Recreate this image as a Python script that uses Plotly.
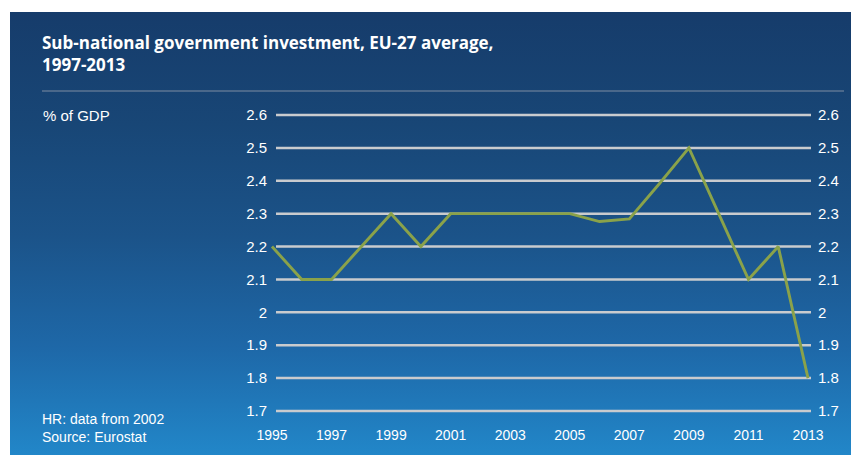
import base64
import plotly.graph_objects as go

# ---- data ----
years = list(range(1995, 2014))
values = [2.2, 2.1, 2.1, 2.2, 2.3, 2.2, 2.3, 2.3, 2.3, 2.3, 2.3, 2.276, 2.284,
          2.39, 2.5, 2.3, 2.1, 2.2, 1.8]
y_ticks = [1.7, 1.8, 1.9, 2.0, 2.1, 2.2, 2.3, 2.4, 2.5, 2.6]
y_tick_labels = ["1.7", "1.8", "1.9", "2", "2.1", "2.2", "2.3", "2.4", "2.5", "2.6"]
x_ticks = list(range(1995, 2014, 2))
x_tick_labels = [str(y) for y in x_ticks]

title_text = "Sub-national government investment, EU-27 average,<br>1997-2013"
unit_text = "% of GDP"
note_text = "HR: data from 2002"
source_text = "Source: Eurostat"

W, H = 851, 455


def px(x):
    return x / W


def py(y):
    return 1 - y / H


# gradient background as SVG data-uri
svg = (
    '<svg xmlns="http://www.w3.org/2000/svg" width="100" height="100" preserveAspectRatio="none">'
    '<defs><linearGradient id="g" x1="0" y1="0" x2="0" y2="1">'
    '<stop offset="0" stop-color="#163c6b"/>'
    '<stop offset="0.25" stop-color="#184676"/>'
    '<stop offset="0.5" stop-color="#1b5389"/>'
    '<stop offset="0.75" stop-color="#1e68a8"/>'
    '<stop offset="1" stop-color="#2288ca"/>'
    '</linearGradient></defs>'
    '<rect x="0" y="0" width="100" height="100" fill="url(#g)"/></svg>'
)
bg_uri = "data:image/svg+xml;base64," + base64.b64encode(svg.encode()).decode()

fig = go.Figure()
fig.add_trace(go.Scatter(
    x=years, y=values, mode="lines",
    line=dict(color="#8aa24a", width=2.9),
    hoverinfo="x+y", showlegend=False,
))
# invisible trace to anchor the right axis
fig.add_trace(go.Scatter(
    x=[years[0]], y=[values[0]], yaxis="y2", mode="markers",
    marker=dict(opacity=0), hoverinfo="skip", showlegend=False,
))

tick_font = dict(family="Liberation Sans, Arial, sans-serif", size=15, color="white")

shapes = []
for t in y_ticks:
    shapes.append(dict(type="line", xref="paper", yref="y",
                       x0=px(276), x1=px(811), y0=t, y1=t,
                       line=dict(color="#c9cbce", width=2.5), layer="below"))
shapes.append(dict(type="line", xref="paper", yref="paper",
                   x0=px(42), x1=px(844), y0=py(91), y1=py(91),
                   line=dict(color="#7e8ea3", width=1)))

ydom = [py(414.3), py(111.7)]

fig.update_layout(
    template="none",
    width=W, height=H,
    margin=dict(l=0, r=0, t=0, b=0, pad=0, autoexpand=False),
    paper_bgcolor="white",
    plot_bgcolor="rgba(0,0,0,0)",
    images=[dict(source=bg_uri, xref="paper", yref="paper",
                 x=px(10), y=py(12), sizex=1 - px(10) + 0.01, sizey=py(12) + 0.01,
                 xanchor="left", yanchor="top", sizing="stretch", layer="below")],
    xaxis=dict(domain=[px(269), px(811)], range=[1994.9, 2013.1], automargin=False,
               tickmode="array", tickvals=x_ticks, ticktext=x_tick_labels,
               showgrid=False, zeroline=False, showline=False, ticks="",
               tickfont=dict(family="Liberation Sans, Arial, sans-serif", size=14, color="white"),
               ticklabelstandoff=11),
    yaxis=dict(domain=ydom, range=[1.69, 2.61], automargin=False,
               tickmode="array", tickvals=y_ticks, ticktext=y_tick_labels,
               showgrid=False, zeroline=False, showline=False, ticks="",
               tickfont=tick_font, ticklabelstandoff=1),
    yaxis2=dict(domain=ydom, range=[1.69, 2.61], overlaying="y", side="right",
                anchor="x", matches="y", automargin=False,
                tickmode="array", tickvals=y_ticks, ticktext=y_tick_labels,
                showgrid=False, zeroline=False, showline=False, ticks="",
                tickfont=tick_font, ticklabelstandoff=6),
    shapes=shapes,
    annotations=[
        dict(text="<b>" + title_text + "</b>", xref="paper", yref="paper",
             x=px(40), y=py(29), xanchor="left", yanchor="top", align="left",
             showarrow=False,
             font=dict(family="Open Sans, Noto Sans, sans-serif", size=17, color="white")),
        dict(text=unit_text, xref="paper", yref="paper",
             x=px(41), y=py(115), xanchor="left", yanchor="middle",
             showarrow=False,
             font=dict(family="Liberation Sans, Arial, sans-serif", size=15, color="white")),
        dict(text=note_text, xref="paper", yref="paper",
             x=px(40), y=py(419), xanchor="left", yanchor="middle",
             showarrow=False,
             font=dict(family="Liberation Sans, Arial, sans-serif", size=14, color="white")),
        dict(text=source_text, xref="paper", yref="paper",
             x=px(40), y=py(437), xanchor="left", yanchor="middle",
             showarrow=False,
             font=dict(family="Liberation Sans, Arial, sans-serif", size=14, color="white")),
    ],
)

fig.write_html(
    "out.html",
    config={"displayModeBar": False},
    post_script="document.body.style.margin='0px';document.body.style.overflow='hidden';",
)
